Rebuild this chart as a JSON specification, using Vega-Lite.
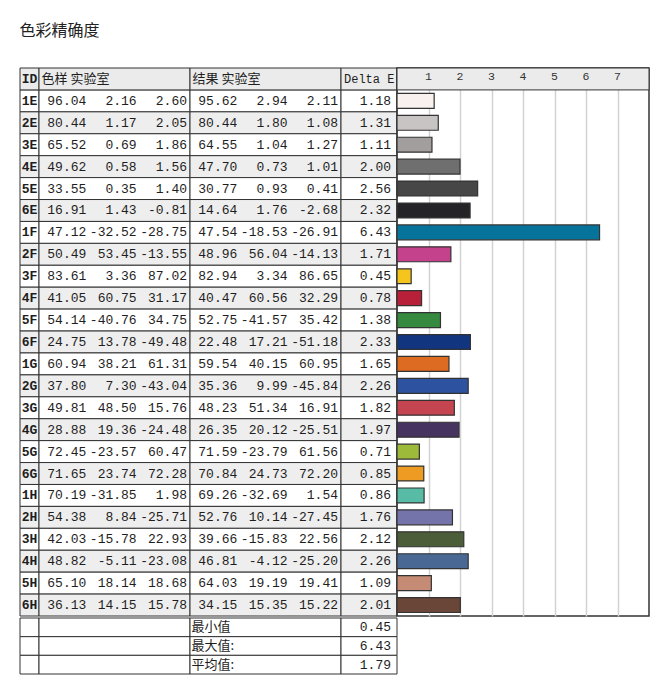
{
  "$schema": "https://vega.github.io/schema/vega-lite/v6.json",
  "padding": {"left": 19, "top": 22, "right": 0, "bottom": 0},
  "title": {
    "text": "色彩精确度",
    "anchor": "start",
    "font": "Noto Sans CJK SC",
    "fontSize": 16,
    "fontWeight": "normal",
    "color": "#222222",
    "offset": 28
  },
  "datasets": {
    "patches": [
      {"id": "1E", "sL": 96.04, "sa": 2.16, "sb": 2.60, "rL": 95.62, "ra": 2.94, "rb": 2.11, "de": 1.18},
      {"id": "2E", "sL": 80.44, "sa": 1.17, "sb": 2.05, "rL": 80.44, "ra": 1.80, "rb": 1.08, "de": 1.31},
      {"id": "3E", "sL": 65.52, "sa": 0.69, "sb": 1.86, "rL": 64.55, "ra": 1.04, "rb": 1.27, "de": 1.11},
      {"id": "4E", "sL": 49.62, "sa": 0.58, "sb": 1.56, "rL": 47.70, "ra": 0.73, "rb": 1.01, "de": 2.00},
      {"id": "5E", "sL": 33.55, "sa": 0.35, "sb": 1.40, "rL": 30.77, "ra": 0.93, "rb": 0.41, "de": 2.56},
      {"id": "6E", "sL": 16.91, "sa": 1.43, "sb": -0.81, "rL": 14.64, "ra": 1.76, "rb": -2.68, "de": 2.32},
      {"id": "1F", "sL": 47.12, "sa": -32.52, "sb": -28.75, "rL": 47.54, "ra": -18.53, "rb": -26.91, "de": 6.43},
      {"id": "2F", "sL": 50.49, "sa": 53.45, "sb": -13.55, "rL": 48.96, "ra": 56.04, "rb": -14.13, "de": 1.71},
      {"id": "3F", "sL": 83.61, "sa": 3.36, "sb": 87.02, "rL": 82.94, "ra": 3.34, "rb": 86.65, "de": 0.45},
      {"id": "4F", "sL": 41.05, "sa": 60.75, "sb": 31.17, "rL": 40.47, "ra": 60.56, "rb": 32.29, "de": 0.78},
      {"id": "5F", "sL": 54.14, "sa": -40.76, "sb": 34.75, "rL": 52.75, "ra": -41.57, "rb": 35.42, "de": 1.38},
      {"id": "6F", "sL": 24.75, "sa": 13.78, "sb": -49.48, "rL": 22.48, "ra": 17.21, "rb": -51.18, "de": 2.33},
      {"id": "1G", "sL": 60.94, "sa": 38.21, "sb": 61.31, "rL": 59.54, "ra": 40.15, "rb": 60.95, "de": 1.65},
      {"id": "2G", "sL": 37.80, "sa": 7.30, "sb": -43.04, "rL": 35.36, "ra": 9.99, "rb": -45.84, "de": 2.26},
      {"id": "3G", "sL": 49.81, "sa": 48.50, "sb": 15.76, "rL": 48.23, "ra": 51.34, "rb": 16.91, "de": 1.82},
      {"id": "4G", "sL": 28.88, "sa": 19.36, "sb": -24.48, "rL": 26.35, "ra": 20.12, "rb": -25.51, "de": 1.97},
      {"id": "5G", "sL": 72.45, "sa": -23.57, "sb": 60.47, "rL": 71.59, "ra": -23.79, "rb": 61.56, "de": 0.71},
      {"id": "6G", "sL": 71.65, "sa": 23.74, "sb": 72.28, "rL": 70.84, "ra": 24.73, "rb": 72.20, "de": 0.85},
      {"id": "1H", "sL": 70.19, "sa": -31.85, "sb": 1.98, "rL": 69.26, "ra": -32.69, "rb": 1.54, "de": 0.86},
      {"id": "2H", "sL": 54.38, "sa": 8.84, "sb": -25.71, "rL": 52.76, "ra": 10.14, "rb": -27.45, "de": 1.76},
      {"id": "3H", "sL": 42.03, "sa": -15.78, "sb": 22.93, "rL": 39.66, "ra": -15.83, "rb": 22.56, "de": 2.12},
      {"id": "4H", "sL": 48.82, "sa": -5.11, "sb": -23.08, "rL": 46.81, "ra": -4.12, "rb": -25.20, "de": 2.26},
      {"id": "5H", "sL": 65.10, "sa": 18.14, "sb": 18.68, "rL": 64.03, "ra": 19.19, "rb": 19.41, "de": 1.09},
      {"id": "6H", "sL": 36.13, "sa": 14.15, "sb": 15.78, "rL": 34.15, "ra": 15.35, "rb": 15.22, "de": 2.01}
    ],
    "headers": [
      {"col": "id", "label": "ID"},
      {"col": "sample", "label": "色样 实验室"},
      {"col": "result", "label": "结果 实验室"},
      {"col": "de", "label": "Delta E"},
      {"col": "chart", "label": ""}
    ],
    "ticks": [{"t": 1}, {"t": 2}, {"t": 3}, {"t": 4}, {"t": 5}, {"t": 6}, {"t": 7}],
    "summary": [
      {"stat": "最小值", "de": 0.45},
      {"stat": "最大值:", "de": 6.43},
      {"stat": "平均值:", "de": 1.79}
    ]
  },
  "spacing": 0,
  "vconcat": [
    {
      "spacing": 0,
      "bounds": "flush",
      "hconcat": [
        {
          "width": 19,
          "height": 548,
          "layer": [
            {
              "data": {"name": "patches"},
              "mark": {"type": "rect", "stroke": "#333333", "strokeWidth": 1},
              "encoding": {
                "y": {"field": "id", "type": "nominal", "axis": null,
                  "scale": {"domain": ["hdr", "1E", "2E", "3E", "4E", "5E", "6E", "1F", "2F", "3F", "4F", "5F", "6F", "1G", "2G", "3G", "4G", "5G", "6G", "1H", "2H", "3H", "4H", "5H", "6H"], "paddingInner": 0, "paddingOuter": 0}},
                "fill": {"condition": {"test": "test(/^[246]/, datum.id)", "value": "#eeeeee"}, "value": "#ffffff"}
              }
            },
            {
              "data": {"name": "headers"},
              "transform": [{"filter": "datum.col === 'id'"}],
              "mark": {"type": "rect", "fill": "#ebebeb", "stroke": "#333333", "strokeWidth": 1},
              "encoding": {"y": {"datum": "hdr", "type": "nominal"}}
            },
            {
              "data": {"name": "headers"},
              "transform": [{"filter": "datum.col === 'id'"}],
              "mark": {"type": "text", "align": "center", "fontWeight": "bold"},
              "encoding": {"y": {"datum": "hdr", "type": "nominal"}, "text": {"field": "label"}}
            },
            {
              "data": {"name": "patches"},
              "mark": {"type": "text", "align": "center", "fontWeight": "bold"},
              "encoding": {"y": {"field": "id", "type": "nominal"}, "text": {"field": "id"}}
            }
          ]
        },
        {
          "width": 151,
          "height": 548,
          "layer": [
            {
              "data": {"name": "patches"},
              "mark": {"type": "rect", "stroke": "#333333", "strokeWidth": 1},
              "encoding": {
                "y": {"field": "id", "type": "nominal", "axis": null,
                  "scale": {"domain": ["hdr", "1E", "2E", "3E", "4E", "5E", "6E", "1F", "2F", "3F", "4F", "5F", "6F", "1G", "2G", "3G", "4G", "5G", "6G", "1H", "2H", "3H", "4H", "5H", "6H"], "paddingInner": 0, "paddingOuter": 0}},
                "fill": {"condition": {"test": "test(/^[246]/, datum.id)", "value": "#eeeeee"}, "value": "#ffffff"}
              }
            },
            {
              "data": {"name": "headers"},
              "transform": [{"filter": "datum.col === 'sample'"}],
              "mark": {"type": "rect", "fill": "#ebebeb", "stroke": "#333333", "strokeWidth": 1},
              "encoding": {"y": {"datum": "hdr", "type": "nominal"}}
            },
            {
              "data": {"name": "headers"},
              "transform": [{"filter": "datum.col === 'sample'"}],
              "mark": {"type": "text", "align": "left", "dx": -73, "font": "Noto Sans CJK SC"},
              "encoding": {"y": {"datum": "hdr", "type": "nominal"}, "text": {"field": "label"}}
            },
            {
              "data": {"name": "patches"},
              "transform": [{"fold": ["sL", "sa", "sb"], "as": ["comp", "val"]}],
              "mark": {"type": "text", "align": "right", "dx": -3},
              "encoding": {
                "y": {"field": "id", "type": "nominal"},
                "x": {"field": "comp", "type": "nominal", "axis": null, "bandPosition": 1,
                  "scale": {"type": "band", "domain": ["sL", "sa", "sb"], "paddingInner": 0, "paddingOuter": 0}},
                "text": {"field": "val", "type": "quantitative", "format": ".2f"}
              }
            }
          ]
        },
        {
          "width": 151,
          "height": 548,
          "layer": [
            {
              "data": {"name": "patches"},
              "mark": {"type": "rect", "stroke": "#333333", "strokeWidth": 1},
              "encoding": {
                "y": {"field": "id", "type": "nominal", "axis": null,
                  "scale": {"domain": ["hdr", "1E", "2E", "3E", "4E", "5E", "6E", "1F", "2F", "3F", "4F", "5F", "6F", "1G", "2G", "3G", "4G", "5G", "6G", "1H", "2H", "3H", "4H", "5H", "6H"], "paddingInner": 0, "paddingOuter": 0}},
                "fill": {"condition": {"test": "test(/^[246]/, datum.id)", "value": "#eeeeee"}, "value": "#ffffff"}
              }
            },
            {
              "data": {"name": "headers"},
              "transform": [{"filter": "datum.col === 'result'"}],
              "mark": {"type": "rect", "fill": "#ebebeb", "stroke": "#333333", "strokeWidth": 1},
              "encoding": {"y": {"datum": "hdr", "type": "nominal"}}
            },
            {
              "data": {"name": "headers"},
              "transform": [{"filter": "datum.col === 'result'"}],
              "mark": {"type": "text", "align": "left", "dx": -73, "font": "Noto Sans CJK SC"},
              "encoding": {"y": {"datum": "hdr", "type": "nominal"}, "text": {"field": "label"}}
            },
            {
              "data": {"name": "patches"},
              "transform": [{"fold": ["rL", "ra", "rb"], "as": ["comp", "val"]}],
              "mark": {"type": "text", "align": "right", "dx": -3},
              "encoding": {
                "y": {"field": "id", "type": "nominal"},
                "x": {"field": "comp", "type": "nominal", "axis": null, "bandPosition": 1,
                  "scale": {"type": "band", "domain": ["rL", "ra", "rb"], "paddingInner": 0, "paddingOuter": 0}},
                "text": {"field": "val", "type": "quantitative", "format": ".2f"}
              }
            }
          ]
        },
        {
          "width": 56,
          "height": 548,
          "layer": [
            {
              "data": {"name": "patches"},
              "mark": {"type": "rect", "stroke": "#333333", "strokeWidth": 1},
              "encoding": {
                "y": {"field": "id", "type": "nominal", "axis": null,
                  "scale": {"domain": ["hdr", "1E", "2E", "3E", "4E", "5E", "6E", "1F", "2F", "3F", "4F", "5F", "6F", "1G", "2G", "3G", "4G", "5G", "6G", "1H", "2H", "3H", "4H", "5H", "6H"], "paddingInner": 0, "paddingOuter": 0}},
                "fill": {"condition": {"test": "test(/^[246]/, datum.id)", "value": "#eeeeee"}, "value": "#ffffff"}
              }
            },
            {
              "data": {"name": "headers"},
              "transform": [{"filter": "datum.col === 'de'"}],
              "mark": {"type": "rect", "fill": "#ebebeb", "stroke": "#333333", "strokeWidth": 1},
              "encoding": {"y": {"datum": "hdr", "type": "nominal"}}
            },
            {
              "data": {"name": "headers"},
              "transform": [{"filter": "datum.col === 'de'"}],
              "mark": {"type": "text", "align": "left", "dx": -25, "fontSize": 12},
              "encoding": {"y": {"datum": "hdr", "type": "nominal"}, "text": {"field": "label"}}
            },
            {
              "data": {"name": "patches"},
              "mark": {"type": "text", "align": "right", "dx": 22},
              "encoding": {
                "y": {"field": "id", "type": "nominal"},
                "text": {"field": "de", "type": "quantitative", "format": ".2f"}
              }
            }
          ]
        },
        {
          "width": 252,
          "height": 548,
          "view": {"stroke": "#333333", "strokeWidth": 1.5},
          "layer": [
            {
              "data": {"name": "patches"},
              "mark": {"type": "bar", "height": {"band": 0.68}, "stroke": "#333333", "strokeWidth": 1.2},
              "encoding": {
                "x": {"field": "de", "type": "quantitative",
                  "scale": {"domain": [0, 8], "nice": false, "zero": true},
                  "axis": {"values": [1, 2, 3, 4, 5, 6, 7], "grid": true, "gridColor": "#d2d2d2", "gridWidth": 1.5, "gridOpacity": 1,
                    "labels": false, "ticks": false, "domain": false, "title": null, "orient": "bottom", "zindex": 0}},
                "y": {"field": "id", "type": "nominal", "axis": null,
                  "scale": {"domain": ["hdr", "1E", "2E", "3E", "4E", "5E", "6E", "1F", "2F", "3F", "4F", "5F", "6F", "1G", "2G", "3G", "4G", "5G", "6G", "1H", "2H", "3H", "4H", "5H", "6H"], "paddingInner": 0, "paddingOuter": 0}},
                "color": {
                  "field": "id", "type": "nominal", "legend": null,
                  "scale": {
                    "domain": ["1E", "2E", "3E", "4E", "5E", "6E", "1F", "2F", "3F", "4F", "5F", "6F", "1G", "2G", "3G", "4G", "5G", "6G", "1H", "2H", "3H", "4H", "5H", "6H"],
                    "range": ["#f8f1ed", "#c8c4c3", "#a19e9d", "#6f6f6f", "#474747", "#242428", "#06749a", "#c4428c", "#f5c51e", "#b8203a", "#368a3f", "#123580", "#dd6b22", "#2d53a0", "#c4444f", "#46335f", "#9dba3b", "#ee9b24", "#57bba6", "#7574aa", "#4b5e39", "#496893", "#c58b75", "#6a4639"]
                  }
                }
              }
            },
            {
              "data": {"name": "headers"},
              "transform": [{"filter": "datum.col === 'chart'"}],
              "mark": {"type": "rect", "fill": "#ebebeb", "stroke": "#333333", "strokeWidth": 1},
              "encoding": {"y": {"datum": "hdr", "type": "nominal"}}
            },
            {
              "data": {"name": "ticks"},
              "mark": {"type": "text", "fontSize": 11.5, "dy": -2, "color": "#333333"},
              "encoding": {
                "x": {"field": "t", "type": "quantitative"},
                "y": {"datum": "hdr", "type": "nominal"},
                "text": {"field": "t", "type": "quantitative"}
              }
            }
          ]
        }
      ]
    },
    {
      "spacing": 0,
      "bounds": "flush",
      "hconcat": [
        {
          "width": 19,
          "height": 56,
          "data": {"name": "summary"},
          "mark": {"type": "rect", "fill": "#ffffff", "stroke": "#333333", "strokeWidth": 1},
          "encoding": {"y": {"field": "stat", "type": "nominal", "sort": null, "axis": null, "scale": {"paddingInner": 0, "paddingOuter": 0}}}
        },
        {
          "width": 151,
          "height": 56,
          "data": {"name": "summary"},
          "mark": {"type": "rect", "fill": "#ffffff", "stroke": "#333333", "strokeWidth": 1},
          "encoding": {"y": {"field": "stat", "type": "nominal", "sort": null, "axis": null, "scale": {"paddingInner": 0, "paddingOuter": 0}}}
        },
        {
          "width": 151,
          "height": 56,
          "data": {"name": "summary"},
          "encoding": {"y": {"field": "stat", "type": "nominal", "sort": null, "axis": null, "scale": {"paddingInner": 0, "paddingOuter": 0}}},
          "layer": [
            {"mark": {"type": "rect", "fill": "#ffffff", "stroke": "#333333", "strokeWidth": 1}},
            {
              "mark": {"type": "text", "align": "left", "dx": -74, "font": "Noto Sans CJK SC"},
              "encoding": {"text": {"field": "stat"}}
            }
          ]
        },
        {
          "width": 56,
          "height": 56,
          "data": {"name": "summary"},
          "encoding": {"y": {"field": "stat", "type": "nominal", "sort": null, "axis": null, "scale": {"paddingInner": 0, "paddingOuter": 0}}},
          "layer": [
            {"mark": {"type": "rect", "fill": "#ffffff", "stroke": "#333333", "strokeWidth": 1}},
            {
              "mark": {"type": "text", "align": "right", "dx": 22},
              "encoding": {"text": {"field": "de", "type": "quantitative", "format": ".2f"}}
            }
          ]
        }
      ]
    }
  ],
  "config": {
    "view": {"stroke": null},
    "locale": {"number": {"decimal": ".", "thousands": ",", "grouping": [3], "currency": ["$", ""], "minus": "-"}},
    "text": {"font": "Liberation Mono, Noto Sans CJK SC", "fontSize": 13, "color": "#1e1e1e", "baseline": "middle"}
  }
}
